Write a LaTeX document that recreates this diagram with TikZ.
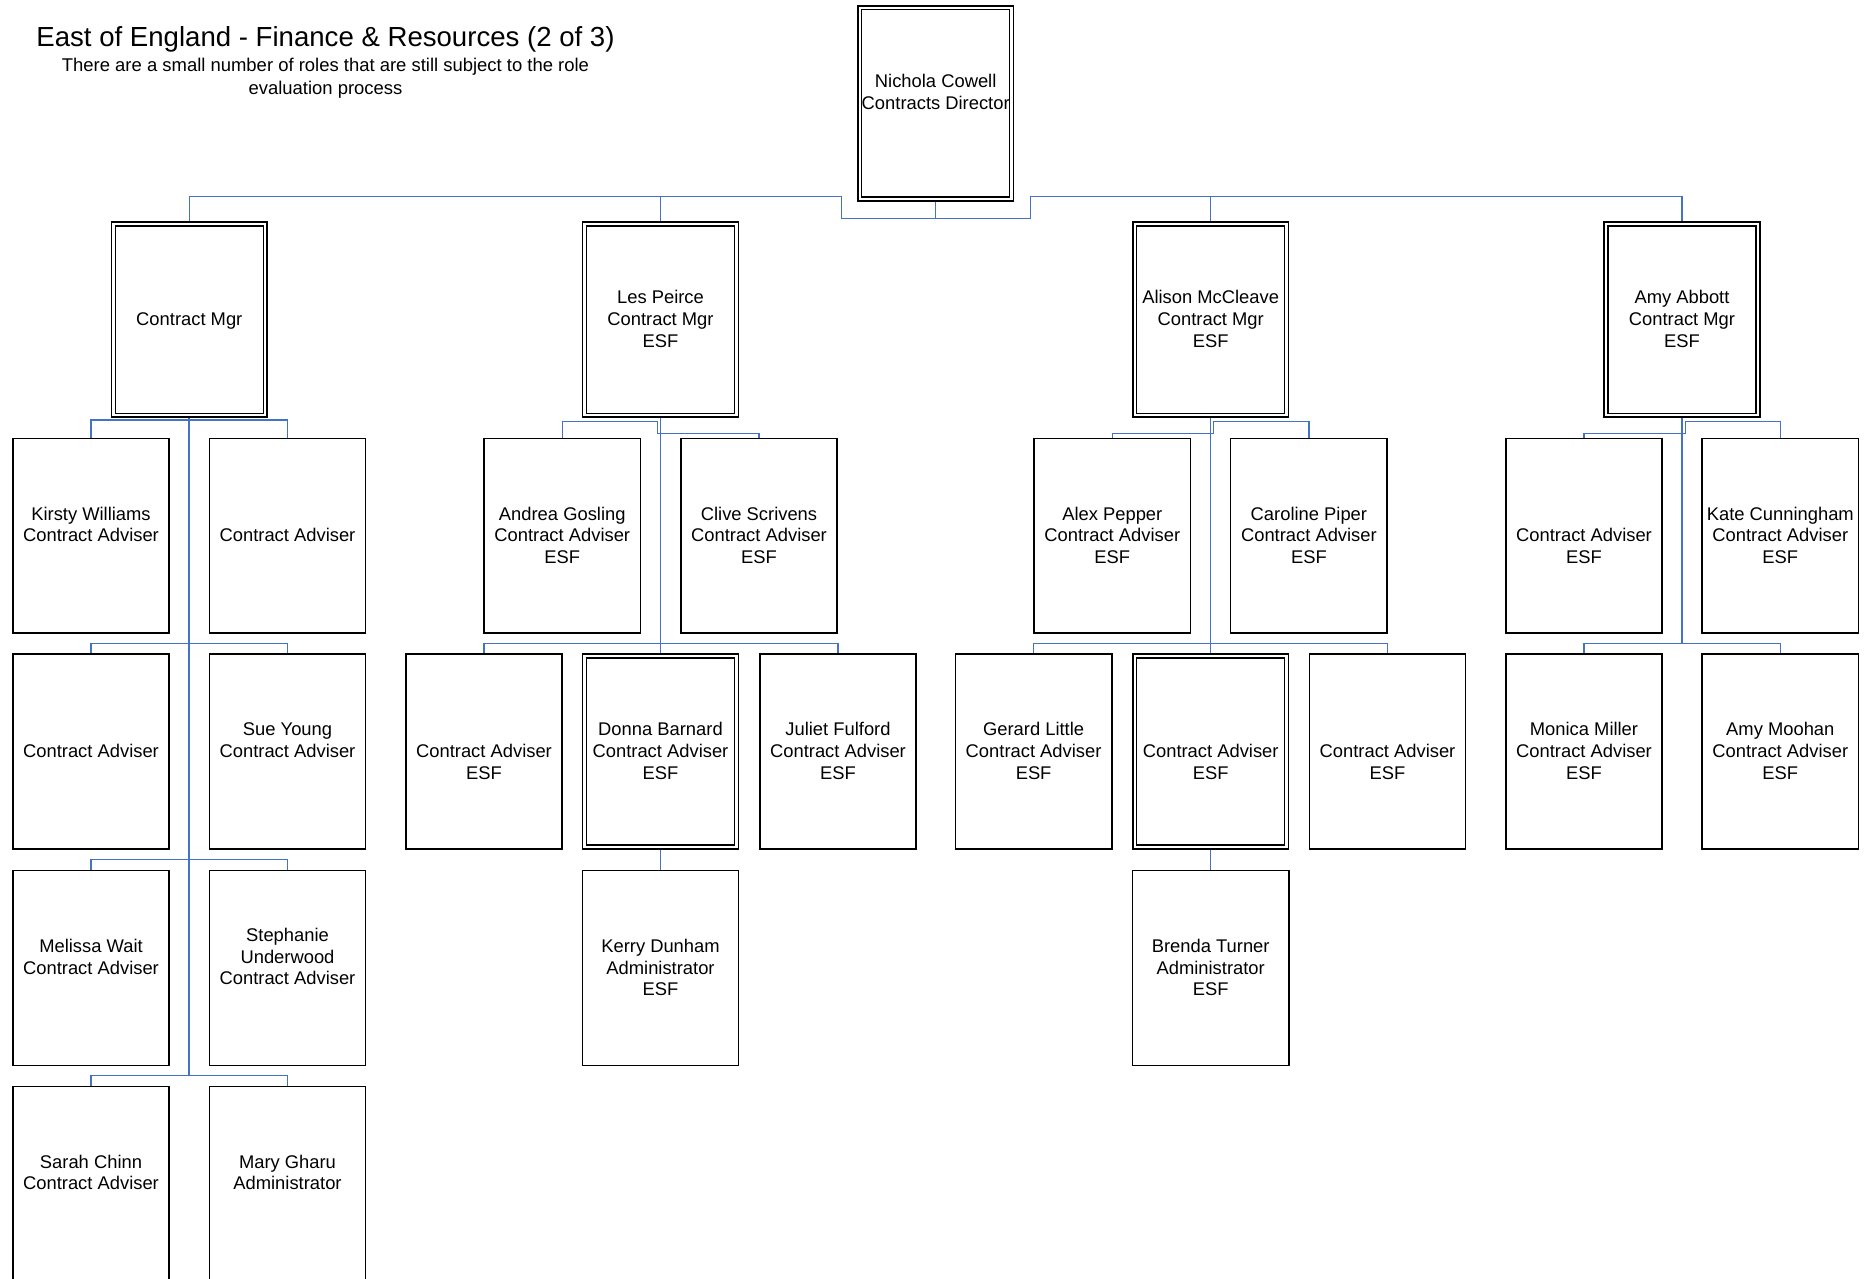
\documentclass[tikz,border=0pt]{standalone}
\usepackage{fontspec}
\setmainfont{Liberation Sans}
\usepackage{tikz}
\usetikzlibrary{positioning,backgrounds}
\usepackage{xcolor}
\definecolor{linkblue}{RGB}{68,114,196}
\newcommand{\tallstrut}{\rule{0pt}{10.7pt}}
\newcommand{\card}[3]{\tallstrut\strut#1\\\strut#2\\\strut#3}

\begin{document}
\begin{tikzpicture}
        % Define the box styles
        \tikzstyle{post}=[draw, line width=0.03cm, minimum width=3.128cm, minimum height=3.894cm, inner sep=0pt, align=center, font=\fontsize{10.45}{12.4}\selectfont]
        \tikzstyle{head}=[post, double, double distance=0.046cm, minimum width=3.036cm, minimum height=3.824cm]
        \tikzstyle{link}=[draw=linkblue, line width=0.7pt]

        \useasboundingbox (0,0) rectangle (37.34,-25.56);

        % Title and note
        \node (title)[anchor=base, font=\fontsize{15.7}{18}\selectfont] at (6.51,-0.93) {East of England - Finance \& Resources (2 of 3)};
        \node (note)[anchor=base, font=\fontsize{10.5}{12.9}\selectfont] at (6.51,-1.43) {\begin{tabular}[t]{@{}c@{}}There are a small number of roles that are still subject to the role\\evaluation process\end{tabular}};

        % Director
        \node (nc)[head] at (18.714,-2.066) {\card{Nichola Cowell}{Contracts Director}{}};

        % Contract managers
        \node (cm)[head] at (3.786,-6.392) {\card{}{Contract Mgr}{}};
        \node (lp)[head] at (13.21,-6.392) {\card{Les Peirce}{Contract Mgr}{ESF}};
        \node (am)[head] at (24.214,-6.392) {\card{Alison McCleave}{Contract Mgr}{ESF}};
        \node (aa)[head] at (33.64,-6.392) {\card{Amy Abbott}{Contract Mgr}{ESF}};

        % Team of the first manager
        \node (kw)[post] at (1.82,-10.717) {\card{Kirsty Williams}{Contract Adviser}{}};
        \node (ca1)[post] at (5.75,-10.717) {\card{}{Contract Adviser}{}};
        \node (ca2)[post] at (1.82,-15.03) {\card{}{Contract Adviser}{}};
        \node (sy)[post] at (5.75,-15.03) {\card{Sue Young}{Contract Adviser}{}};
        \node (mw)[post] at (1.82,-19.358) {\card{Melissa Wait}{Contract Adviser}{}};
        \node (su)[post] at (5.75,-19.358) {\tallstrut\strut Stephanie\\\strut Underwood\\\strut Contract Adviser\\\strut};
        \node (sc)[post] at (1.82,-23.676) {\card{Sarah Chinn}{Contract Adviser}{}};
        \node (mg)[post] at (5.75,-23.676) {\card{Mary Gharu}{Administrator}{}};

        % Team of Les Peirce
        \node (ag)[post] at (11.245,-10.717) {\card{Andrea Gosling}{Contract Adviser}{ESF}};
        \node (cs)[post] at (15.18,-10.717) {\card{Clive Scrivens}{Contract Adviser}{ESF}};
        \node (ca3)[post] at (9.68,-15.03) {\card{}{Contract Adviser}{ESF}};
        \node (db)[head] at (13.21,-15.03) {\card{Donna Barnard}{Contract Adviser}{ESF}};
        \node (jf)[post] at (16.76,-15.03) {\card{Juliet Fulford}{Contract Adviser}{ESF}};
        \node (kd)[post] at (13.21,-19.358) {\card{Kerry Dunham}{Administrator}{ESF}};

        % Team of Alison McCleave
        \node (ap)[post] at (22.246,-10.717) {\card{Alex Pepper}{Contract Adviser}{ESF}};
        \node (cp)[post] at (26.178,-10.717) {\card{Caroline Piper}{Contract Adviser}{ESF}};
        \node (gl)[post] at (20.672,-15.03) {\card{Gerard Little}{Contract Adviser}{ESF}};
        \node (ca4)[head] at (24.214,-15.03) {\card{}{Contract Adviser}{ESF}};
        \node (ca5)[post] at (27.75,-15.03) {\card{}{Contract Adviser}{ESF}};
        \node (bt)[post] at (24.214,-19.358) {\card{Brenda Turner}{Administrator}{ESF}};

        % Team of Amy Abbott
        \node (ca6)[post] at (31.68,-10.717) {\card{}{Contract Adviser}{ESF}};
        \node (kc)[post] at (35.606,-10.717) {\card{Kate Cunningham}{Contract Adviser}{ESF}};
        \node (mm)[post] at (31.68,-15.03) {\card{Monica Miller}{Contract Adviser}{ESF}};
        \node (amo)[post] at (35.606,-15.03) {\card{Amy Moohan}{Contract Adviser}{ESF}};

        % Bar under the director
        \coordinate (barL) at (16.834,-3.932);
        \coordinate (barR) at (20.614,-3.932);

        \begin{scope}[on background layer]
        % Director to managers
        \draw[link] (cm.north) |- (barL) -- ++(0,-0.434) -| (barR) -| (aa.north);
        \draw[link] (nc.south) -- (nc.south |- 0,-4.366);
        \draw[link] (lp.north) -- (lp.north |- barL);
        \draw[link] (am.north) -- (am.north |- barR);

        % First manager's team
        \draw[link] (kw.north) -- ++(0,0.356) -| (ca1.north);
        \draw[link] (ca2.north) -- ++(0,0.2) -| (sy.north);
        \draw[link] (mw.north) -- ++(0,0.2) -| (su.north);
        \draw[link] (sc.north) -- ++(0,0.2) coordinate (endL) -| (mg.north);
        \draw[link, line width=1pt] (cm.south) -- (cm.south |- endL);

        % Les Peirce's team
        \draw[link] (ag.north) |- (13.154,-8.434) -- (13.154,-8.666) -| (cs.north);
        \draw[link] (lp.south) -- (db.north);
        \draw[link] (ca3.north) -- ++(0,0.2) -| (jf.north);
        \draw[link] (db.south) -- (kd.north);

        % Alison McCleave's team
        \draw[link] (ap.north) |- (24.266,-8.674) -- (24.266,-8.434) -| (cp.north);
        \draw[link] (am.south) -- (ca4.north);
        \draw[link] (gl.north) -- ++(0,0.2) -| (ca5.north);
        \draw[link] (ca4.south) -- (bt.north);

        % Amy Abbott's team
        \draw[link] (ca6.north) |- (33.706,-8.674) -- (33.706,-8.434) -| (kc.north);
        \draw[link] (mm.north) -- ++(0,0.2) coordinate (endA) -| (amo.north);
        \draw[link] (aa.south) -- (aa.south |- endA);
        \end{scope}
    \end{tikzpicture}
\end{document}
